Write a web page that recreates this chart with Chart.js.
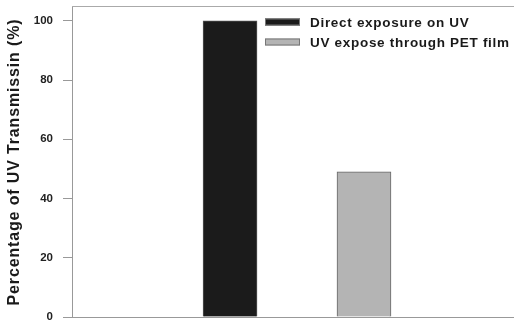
<!DOCTYPE html>
<html><head><meta charset="utf-8">
<script src="https://cdn.jsdelivr.net/npm/chart.js@4"></script>
<style>html,body{margin:0;padding:0;background:#fff}#wrap{width:514px;height:324px}</style>
</head><body><div id="wrap"><canvas id="c" width="514" height="324"></canvas></div>
<script>
const seriesNames = ["Direct exposure on UV", "UV expose through PET film"];
const positions = [1, 2];
const values = [100, 49];
const yTicks = [0, 20, 40, 60, 80, 100];
const yTitle = "Percentage of UV Transmissin (%)";

const FONT = "'Liberation Sans', Arial, sans-serif";

const frameLegend = {
  id: 'frameLegend',
  afterDraw(chart) {
    const ctx = chart.ctx, a = chart.chartArea;
    ctx.save();
    ctx.strokeStyle = '#aaa'; ctx.lineWidth = 1;
    ctx.beginPath(); ctx.moveTo(a.left, a.top + 0.5); ctx.lineTo(a.right, a.top + 0.5); ctx.stroke();
    // legend
    const x0 = 265, y0 = 22, rowH = 20;
    ctx.font = "bold 13.5px " + FONT;
    ctx.letterSpacing = '0.7px';
    ctx.textBaseline = 'middle';
    chart.data.datasets.forEach((ds, i) => {
      const y = y0 + i * rowH;
      ctx.fillStyle = ds.backgroundColor;
      ctx.fillRect(x0, y - 3.5, 35, 7);
      ctx.strokeStyle = '#777';
      ctx.strokeRect(x0 + 0.5, y - 3.5 + 0.5, 34, 6);
      ctx.fillStyle = '#1a1a1a';
      ctx.fillText(ds.label, 310, y + 1);
    });
    // y title
    ctx.font = "bold 16px " + FONT;
    ctx.letterSpacing = '0.85px';
    ctx.textAlign = 'center';
    ctx.textBaseline = 'middle';
    ctx.translate(15, 162);
    ctx.rotate(-Math.PI / 2);
    ctx.fillStyle = '#1a1a1a';
    ctx.fillText(yTitle, 0, 0);
    ctx.restore();
  }
};

new Chart(document.getElementById('c'), {
  type: 'bar',
  data: {
    datasets: [
      { label: seriesNames[0], data: [{x: positions[0], y: values[0]}], backgroundColor: '#1b1b1b', borderColor: '#555', borderWidth: 1, barThickness: 54, grouped: false },
      { label: seriesNames[1], data: [{x: positions[1], y: values[1]}], backgroundColor: '#b4b4b4', borderColor: '#666', borderWidth: 1, barThickness: 54, grouped: false }
    ]
  },
  options: {
    responsive: false, animation: false,
    layout: { padding: { top: 6, right: 0, bottom: 0, left: 0 } },
    plugins: { legend: { display: false }, tooltip: { enabled: false } },
    scales: {
      x: {
        type: 'linear', min: -0.18, max: 3.12, offset: false,
        ticks: { display: false },
        grid: { display: false },
        border: { display: true, color: '#999', width: 1 },
        afterFit(s) { s.height = 7; s.paddingLeft = 0; s.paddingRight = 0; }
      },
      y: {
        min: 0, max: 105,
        afterBuildTicks(s) { s.ticks = yTicks.map(v => ({ value: v })); },
        ticks: { color: '#222', font: { family: FONT, size: 11.5, weight: 'bold' }, padding: 10 },
        grid: { drawOnChartArea: false, drawTicks: true, tickLength: 9, color: '#999' },
        border: { display: true, color: '#999', width: 1 },
        title: { display: false },
        afterFit(s) { s.width = 72; s.paddingTop = 0; s.paddingBottom = 0; }
      }
    }
  },
  plugins: [frameLegend]
});
</script></body></html>
